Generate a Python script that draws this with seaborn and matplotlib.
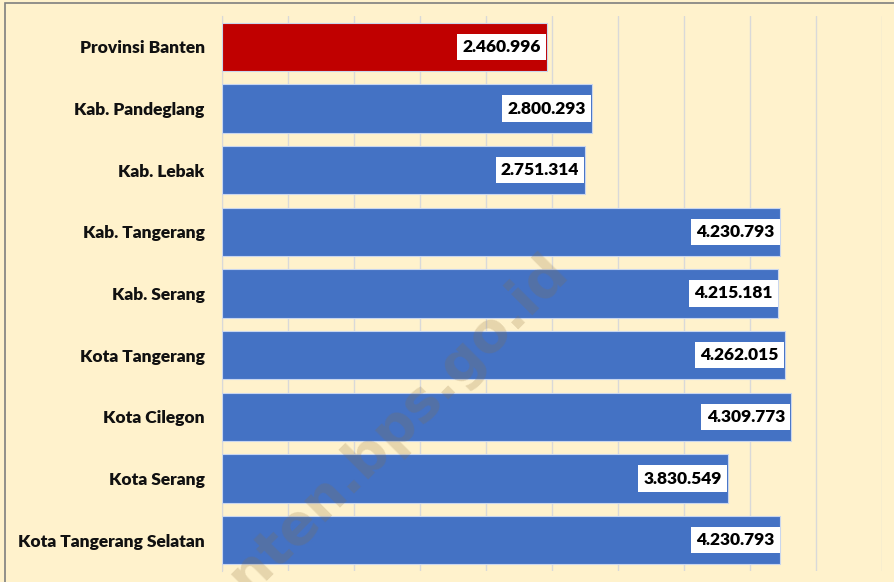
import pandas as pd
import matplotlib.pyplot as plt
import seaborn as sns
from matplotlib.patches import Rectangle

wilayah = ['Provinsi Banten', 'Kab. Pandeglang', 'Kab. Lebak', 'Kab. Tangerang',
           'Kab. Serang', 'Kota Tangerang', 'Kota Cilegon', 'Kota Serang',
           'Kota Tangerang Selatan']
nilai = [2460996, 2800293, 2751314, 4230793, 4215181, 4262015, 4309773,
         3830549, 4230793]
warna = ['#C00000'] + ['#4472C4'] * 8

BG = '#FFF2CC'


def fmt_id(v):
    return f'{v:,}'.replace(',', '.')


def plot_umk():
    df = pd.DataFrame({'wilayah': wilayah, 'nilai': nilai})

    sns.set_style('white')
    plt.rcParams['font.family'] = ['Lato', 'DejaVu Sans']

    fig = plt.figure(figsize=(8.94, 5.82), dpi=100, facecolor=BG)
    ax = fig.add_axes([222 / 894, 1 - 571 / 582, 660 / 894, 555 / 582])
    ax.set_facecolor(BG)

    sns.barplot(data=df, y='wilayah', x='nilai', hue='wilayah', palette=warna,
                saturation=1, legend=False, orient='h', width=0.78, ax=ax,
                edgecolor='#C9D6EE', linewidth=0.8, zorder=3)

    ax.set_xlim(0, 5000000)
    ax.set_ylim(8.5, -0.5)
    ax.set_xticks(range(0, 5000001, 500000))
    ax.xaxis.grid(True, color='#D9D9D9', linewidth=1, zorder=0)
    ax.yaxis.grid(False)
    ax.set_axisbelow(True)
    ax.tick_params(axis='x', bottom=False, labelbottom=False)
    ax.tick_params(axis='y', left=False, pad=9)
    ax.set_xlabel('')
    ax.set_ylabel('')
    for lbl in ax.get_yticklabels():
        lbl.set_fontweight('heavy')
        lbl.set_fontsize(12.5)
        lbl.set_color('#111111')
    for s in ['top', 'right', 'bottom']:
        ax.spines[s].set_visible(False)
    ax.spines['left'].set_color('#D9D9D9')

    for i, v in enumerate(nilai):
        ax.text(v - 45000, i, fmt_id(v), ha='right', va='center',
                fontsize=12.5, fontweight='heavy', color='black', zorder=5,
                bbox=dict(boxstyle='square,pad=0.3', facecolor='white',
                          edgecolor='none'))

    # watermark
    fig.text(371 / 894, 1 - 451 / 582, 'banten.bps.go.id', rotation=45,
             rotation_mode='anchor', ha='center', va='center',
             fontsize=40, fontweight='bold', color='#8C6E3C', alpha=0.22,
             family=['DejaVu Sans'], zorder=10)

    # frame
    fig.patches.append(Rectangle((5 / 894, -0.1), 1.2, 1 - 3 / 582 + 0.1,
                                 transform=fig.transFigure, fill=False,
                                 edgecolor='#7F7F7F', linewidth=1.2))

    fig.savefig('out.png', dpi=100, facecolor=BG)


if __name__ == '__main__':
    plot_umk()
